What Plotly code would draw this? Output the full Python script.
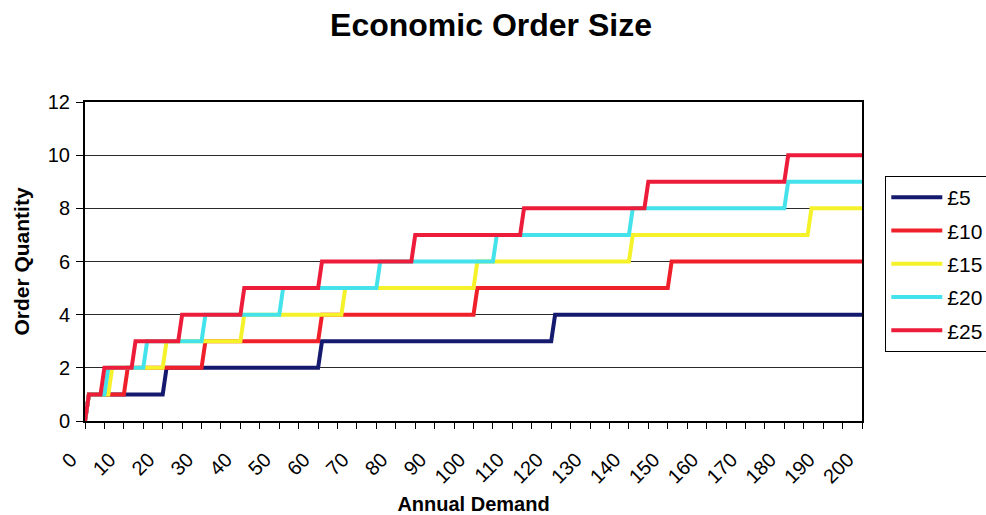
import plotly.graph_objects as go

# Annual demand categories (0..200) and tick labels
demand = list(range(0, 201))
tick_vals = list(range(0, 201, 10))
tick_text = [str(v) for v in tick_vals]

# Order quantity: demand at which each series steps up one unit
steps_5 = [1, 21, 61, 121]
steps_10 = [1, 11, 31, 61, 101, 151]
steps_15 = [1, 7, 21, 41, 67, 101, 141, 187]
steps_20 = [1, 6, 16, 31, 51, 76, 106, 141, 181]
steps_25 = [1, 5, 13, 25, 41, 61, 85, 113, 145, 181]

series_names = ["£5", "£10", "£15", "£20", "£25"]
series_steps = [steps_5, steps_10, steps_15, steps_20, steps_25]
colors = ["#161a6e", "#f0202a", "#f6f22a", "#44e2ea", "#ec1c3a"]


def expand(steps):
    return [sum(1 for s in steps if s <= d) for d in demand]


fig = go.Figure()
for name, st, c in zip(series_names, series_steps, colors):
    fig.add_trace(go.Scatter(
        x=demand, y=expand(st), name=name, mode="lines",
        line=dict(color=c, width=4), legendgroup=name,
    ))

FONT = "Liberation Sans, Arial, sans-serif"

fig.update_layout(
    width=986, height=515,
    margin=dict(l=85, r=124, t=102, b=94, autoexpand=False),
    paper_bgcolor="white", plot_bgcolor="white",
    font=dict(family=FONT, color="black", size=19),
    title=dict(text="<b>Economic Order Size</b>", x=0.498, xanchor="center",
               y=0.952, yanchor="middle", font=dict(size=32, family=FONT)),
    showlegend=True,
    legend=dict(x=1.03, xanchor="left", y=0.768, yanchor="top",
                bordercolor="black", borderwidth=1, bgcolor="white",
                font=dict(size=21, family=FONT), tracegroupgap=3,
                itemwidth=51),
)

fig.update_xaxes(
    range=[0, 200], tickmode="array", tickvals=tick_vals, ticktext=tick_text,
    tickangle=-45, ticks="outside", ticklen=6, tickcolor="black",
    minor=dict(dtick=5, tick0=0, ticks="outside", ticklen=6, tickcolor="black", showgrid=False),
    showline=True, linecolor="black", linewidth=2, mirror=True,
    showgrid=False, zeroline=False,
    tickfont=dict(size=20), ticklabelstandoff=11, ticklabelshift=-14,
    title=dict(text="<b>Annual Demand</b>", font=dict(size=20), standoff=14),
)
fig.update_yaxes(
    range=[0, 12], dtick=2, ticks="outside", ticklen=7, tickcolor="black",
    showline=True, linecolor="black", linewidth=2, mirror=True,
    showgrid=True, gridcolor="#2a2a2a", gridwidth=1, zeroline=False,
    tickfont=dict(size=20), ticklabelstandoff=2,
    title=dict(text="<b>Order Quantity</b>", font=dict(size=21), standoff=12),
)

fig.write_html("out.html")
